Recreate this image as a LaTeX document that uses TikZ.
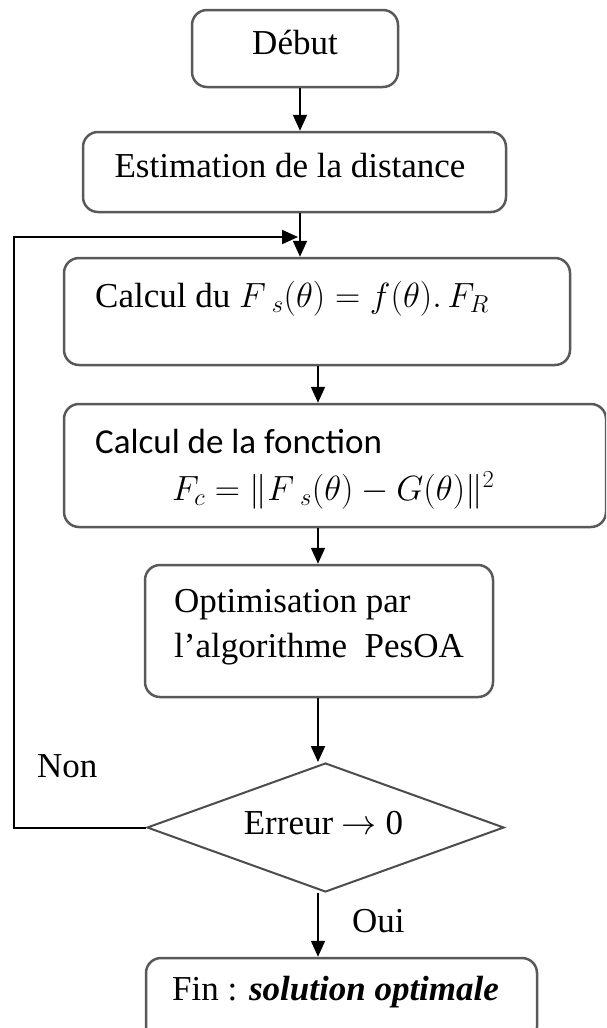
\documentclass[tikz,border=0pt]{standalone}
\usepackage{fix-cm}
\usepackage{fontspec}
\setmainfont{Liberation Serif}
\newfontfamily\calib{Carlito}
\usetikzlibrary{arrows.meta,shapes.geometric}
\begin{document}
\begin{tikzpicture}[x=1pt,y=-1pt,
  box/.style={draw=black!65, line width=2.5pt, rounded corners=15pt, inner sep=0pt},
  conn/.style={line width=2pt, draw=black},
  arr/.style={conn, -{Triangle[length=16pt,width=14pt]}},
  lbl/.style={inner sep=0pt, font=\fontsize{35}{42}\selectfont},
]
\useasboundingbox (0,0) rectangle (606,1028);
\clip (0,0) rectangle (606,1028);

% boxes
\node[box, minimum width=206pt, minimum height=77pt] (debut) at (295,48.5) {};
\node[box, minimum width=423pt, minimum height=80pt] (est) at (294.5,172) {};
\node[box, minimum width=506pt, minimum height=107pt] (calc1) at (317,311.5) {};
\node[box, minimum width=542pt, minimum height=123pt] (calc2) at (335,465.5) {};
\node[box, minimum width=348pt, minimum height=132pt] (opt) at (319,631) {};
\node[box, minimum width=391pt, minimum height=84pt] (fin) at (341.5,1000) {};
\node[draw=black!70, line width=2pt, diamond, inner sep=0pt,
      minimum width=357pt, minimum height=129pt, lbl] (dec) at (325.5,827.5) {};

% texts
\node[lbl] (debutT) at (295,43) {Début};
\node[lbl] (estT) at (290,166) {Estimation de la distance};
\node[lbl, anchor=base west] (calc1T) at (95,307) {Calcul du $F\,{}_s(\theta) = f(\theta).\,F_R$};
\node[lbl, anchor=base west] (calc2T) at (95,453) {\calib Calcul de la fonction};
\node[lbl, anchor=base west] (calc2F) at (172,500) {$F_c = \Vert F\,{}_s(\theta) - G(\theta)\Vert^2$};
\node[lbl, anchor=base west] (optT1) at (174,612) {Optimisation par};
\node[lbl, anchor=base west] (optT2) at (174,657) {l’algorithme\ \ PesOA};
\node[lbl] (decT) at (323.5,823) {Erreur $\rightarrow$ 0};
\node[lbl, anchor=base west] (non) at (37,777) {Non};
\node[lbl, anchor=base west] (oui) at (352,932) {Oui};
\node[lbl, anchor=base west] (finT) at (172,1000) {Fin : \textbf{\textit{solution optimale}}};

% connectors
\coordinate (spine) at (300,0);
\coordinate (col) at (318,0);
\coordinate (loopL) at (14,237);
\coordinate (loopR) at (298,237);
\draw[arr] (debut.south -| spine) -- (est.north -| spine);
\draw[arr] (est.south -| spine) -- (calc1.north -| spine);
\draw[arr] (calc1.south -| col) -- (calc2.north -| col);
\draw[arr] (calc2.south -| col) -- (opt.north -| col);
\draw[arr] (opt.south -| col) -- (dec.north -| col);
\draw[arr] (dec.south -| col) -- (fin.north -| col);
\draw[arr] (dec.west) -| (loopL) -- (loopR);
\end{tikzpicture}
\end{document}
